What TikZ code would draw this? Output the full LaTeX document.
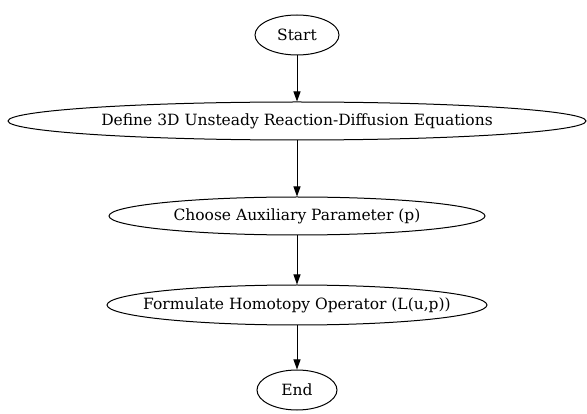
\documentclass[tikz,border=0pt]{standalone}
\usepackage{fontspec}
\setmainfont{DejaVu Serif}
\usetikzlibrary{shapes.geometric,arrows.meta}
\begin{document}
\begin{tikzpicture}[x=1pt,y=-1pt,
  el/.style={draw, ellipse, inner xsep=-30pt, inner ysep=0pt, line width=1pt, font=\fontsize{15.5}{18}\selectfont},
  arr/.style={-{Triangle[length=10pt,width=7pt]}, line width=1pt}]
\useasboundingbox (0,0) rectangle (587,414);
\node[el, minimum width=84pt, minimum height=40pt] (start) at (297,35) {Start};
\node[el, minimum width=578pt, minimum height=38pt] (define) at (297,121) {Define 3D Unsteady Reaction-Diffusion Equations};
\node[el, minimum width=376pt, minimum height=38pt] (choose) at (297,216) {Choose Auxiliary Parameter (p)};
\node[el, minimum width=380pt, minimum height=40pt] (form) at (297,305) {Formulate Homotopy Operator (L(u,p))};
\node[el, minimum width=80pt, minimum height=40pt] (end) at (297,390) {End};
\draw[arr] (start) -- (define);
\draw[arr] (define) -- (choose);
\draw[arr] (choose) -- (form);
\draw[arr] (form) -- (end);
\end{tikzpicture}
\end{document}
